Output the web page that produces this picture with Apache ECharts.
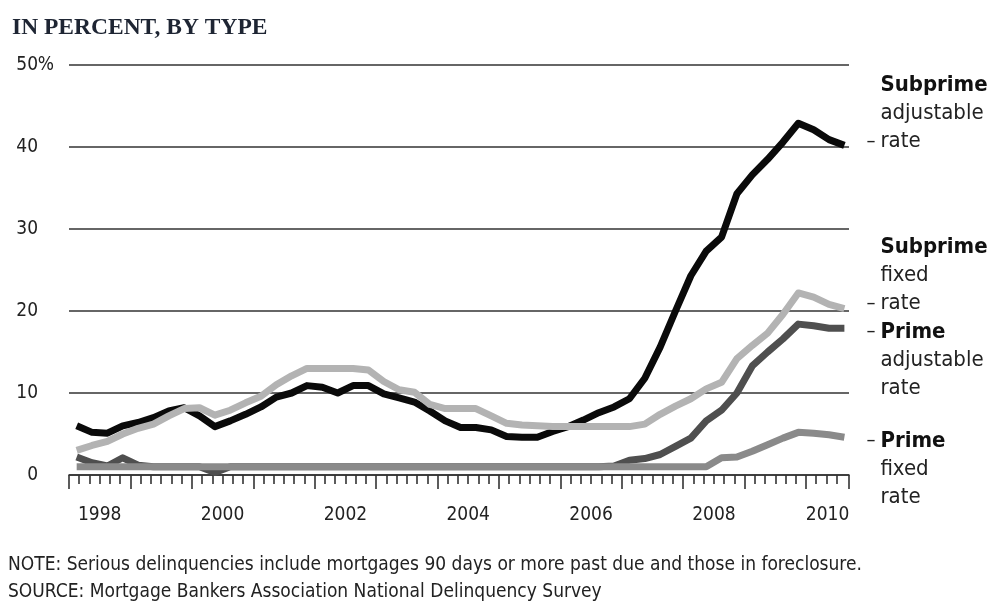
<!DOCTYPE html>
<html>
<head>
<meta charset="utf-8">
<script src="https://cdn.jsdelivr.net/npm/echarts@6/dist/echarts.min.js"></script>
<style>
  html, body { margin: 0; padding: 0; background: #fff; }
  #chart { width: 987px; height: 603px; }
</style>
</head>
<body>
<div id="chart"></div>
<script>
// Serious delinquency rates, quarterly, 1998 Q1 – 2010 Q3 (percent)
const quarters = [
  '1998Q1','1998Q2','1998Q3','1998Q4','1999Q1','1999Q2','1999Q3','1999Q4',
  '2000Q1','2000Q2','2000Q3','2000Q4','2001Q1','2001Q2','2001Q3','2001Q4',
  '2002Q1','2002Q2','2002Q3','2002Q4','2003Q1','2003Q2','2003Q3','2003Q4',
  '2004Q1','2004Q2','2004Q3','2004Q4','2005Q1','2005Q2','2005Q3','2005Q4',
  '2006Q1','2006Q2','2006Q3','2006Q4','2007Q1','2007Q2','2007Q3','2007Q4',
  '2008Q1','2008Q2','2008Q3','2008Q4','2009Q1','2009Q2','2009Q3','2009Q4',
  '2010Q1','2010Q2','2010Q3'
];
const subprimeAdjustable = [
  6.0, 5.2, 5.1, 6.0, 6.4, 7.0, 7.8, 8.2,
  7.2, 5.9, 6.6, 7.4, 8.3, 9.5, 10.0, 10.9,
  10.7, 10.0, 10.9, 10.9, 9.9, 9.4, 8.9, 7.8,
  6.6, 5.8, 5.8, 5.5, 4.7, 4.6, 4.6, 5.3,
  5.9, 6.7, 7.6, 8.3, 9.3, 11.8, 15.6, 20.0,
  24.3, 27.3, 29.0, 34.3, 36.6, 38.5, 40.6, 42.9,
  42.1, 40.9, 40.2
];
const subprimeFixed = [
  3.0, 3.6, 4.1, 5.0, 5.7, 6.2, 7.2, 8.1,
  8.2, 7.3, 7.9, 8.8, 9.6, 11.0, 12.1, 13.0,
  13.0, 13.0, 13.0, 12.8, 11.4, 10.4, 10.1, 8.6,
  8.1, 8.1, 8.1, 7.2, 6.3, 6.1, 6.0, 5.9,
  5.9, 5.9, 5.9, 5.9, 5.9, 6.2, 7.4, 8.4,
  9.3, 10.5, 11.3, 14.2, 15.8, 17.3, 19.6, 22.2,
  21.7, 20.8, 20.3
];
const primeAdjustable = [
  2.2, 1.5, 1.1, 2.1, 1.2, 1.0, 1.0, 1.0,
  1.0, 0.3, 1.0, 1.0, 1.0, 1.0, 1.0, 1.0,
  1.0, 1.0, 1.0, 1.0, 1.0, 1.0, 1.0, 1.0,
  1.0, 1.0, 1.0, 1.0, 1.0, 1.0, 1.0, 1.0,
  1.0, 1.0, 1.0, 1.1, 1.8, 2.0, 2.5, 3.5,
  4.5, 6.6, 7.9, 10.0, 13.3, 15.0, 16.6, 18.4,
  18.2, 17.9, 17.9
];
const primeFixed = [
  1.0, 1.0, 1.0, 1.0, 1.0, 1.0, 1.0, 1.0,
  1.0, 1.0, 1.0, 1.0, 1.0, 1.0, 1.0, 1.0,
  1.0, 1.0, 1.0, 1.0, 1.0, 1.0, 1.0, 1.0,
  1.0, 1.0, 1.0, 1.0, 1.0, 1.0, 1.0, 1.0,
  1.0, 1.0, 1.0, 1.0, 1.0, 1.0, 1.0, 1.0,
  1.0, 1.0, 2.1, 2.2, 2.9, 3.7, 4.5, 5.2,
  5.1, 4.9, 4.6
];
const yearLabels = [1998, 2000, 2002, 2004, 2006, 2008, 2010];
const yTicks = [0, 10, 20, 30, 40, 50];

const X_MIN = 1998, X_MAX = 2010.7;
const sansFont = '"Liberation Sans Narrow", "DejaVu Sans Condensed", "Roboto", sans-serif';

// quarter label -> decimal year at the middle of the quarter
function quarterPos(q) {
  const y = parseInt(q.slice(0, 4), 10);
  const n = parseInt(q.slice(5), 10);
  return y + (n - 0.5) / 4;
}
function pairs(values) {
  return values.map((v, i) => [quarterPos(quarters[i]), v]);
}

// axis tick positions: a long tick at each year start, short ticks every two months
const yearTicks = [];
for (let y = X_MIN; y <= 2010; y++) yearTicks.push(y);
yearTicks.push(X_MAX);
const monthTicks = [];
for (let y = X_MIN; y <= 2010; y++) {
  for (let m = 1; m < 6; m++) {
    const v = y + m / 6;
    if (v < X_MAX - 0.05) monthTicks.push(v);
  }
}
// year labels sit in the middle of the visible span of each year
const labelPositions = yearLabels.map(y => (y + Math.min(y + 1, X_MAX)) / 2);

function endLabel(lines, dashLine, dy) {
  const rows = lines.map((t, i) => {
    const style = i === 0 ? 'b' : 'n';
    const lead = i === dashLine ? '{d|–}' : '{s|}';
    return lead + '{' + style + '|' + t + '}';
  });
  return {
    show: true,
    distance: 0,
    offset: [22, dy],
    formatter: rows.join('\n'),
    rich: {
      b: { fontFamily: sansFont, fontSize: 22, fontWeight: 'bold', color: '#111', lineHeight: 28 },
      n: { fontFamily: sansFont, fontSize: 22, color: '#222', lineHeight: 28 },
      d: { fontFamily: sansFont, fontSize: 20, color: '#222', width: 14, lineHeight: 28 },
      s: { width: 14, lineHeight: 28 }
    }
  };
}

function lineSeries(name, values, color, label) {
  return {
    name: name,
    type: 'line',
    data: pairs(values),
    showSymbol: false,
    symbol: 'none',
    silent: true,
    lineStyle: { color: color, width: 7, join: 'round', cap: 'butt' },
    endLabel: label,
    labelLayout: { hideOverlap: false },
    animation: false
  };
}

const chart = echarts.init(document.getElementById('chart'), null, { renderer: 'canvas' });
chart.setOption({
  backgroundColor: '#fff',
  animation: false,
  title: [
    {
      text: 'IN PERCENT, BY TYPE', left: 7, top: 11,
      textStyle: { fontFamily: '"Liberation Serif", "DejaVu Serif", serif', fontSize: 23.5, fontWeight: 'bold', color: '#1e2533' }
    },
    {
      text: 'NOTE: Serious delinquencies include mortgages 90 days or more past due and those in foreclosure.',
      left: 3, top: 551,
      textStyle: { fontFamily: sansFont, fontSize: 19, fontWeight: 'normal', color: '#222' }
    },
    {
      text: 'SOURCE: Mortgage Bankers Association National Delinquency Survey',
      left: 3, top: 578,
      textStyle: { fontFamily: sansFont, fontSize: 19, fontWeight: 'normal', color: '#222' }
    }
  ],
  grid: { left: 69, right: 138, top: 65, bottom: 128, containLabel: false },
  xAxis: [
    {
      type: 'value', min: X_MIN, max: X_MAX, interval: 1,
      axisLine: { show: true, lineStyle: { color: '#333', width: 1.6 } },
      axisTick: { show: true, length: 14, customValues: yearTicks, lineStyle: { color: '#333', width: 1.6 } },
      axisLabel: {
        show: true, customValues: labelPositions, margin: 31,
        formatter: v => String(Math.floor(v + 1e-6)),
        fontFamily: sansFont, fontSize: 19, color: '#222'
      },
      splitLine: { show: false }
    },
    {
      type: 'value', min: X_MIN, max: X_MAX, position: 'bottom',
      axisLine: { show: false },
      axisTick: { show: true, length: 9, customValues: monthTicks, lineStyle: { color: '#333', width: 1.6 } },
      axisLabel: { show: false },
      splitLine: { show: false }
    }
  ],
  yAxis: {
    type: 'value', min: 0, max: 50, interval: 10,
    axisLine: { show: false },
    axisTick: { show: false },
    splitLine: { show: true, lineStyle: { color: '#333', width: 1.6 } },
    axisLabel: {
      margin: 15, align: 'right',
      // numbers share a right edge; the percent sign on the top label hangs past it
      formatter: v => (v === 50 ? '{v|' + v + '}{p|%}' : '{v|' + v + '}{q|}'),
      rich: {
        v: { fontFamily: sansFont, fontSize: 19, color: '#222' },
        p: { fontFamily: sansFont, fontSize: 19, color: '#222', width: 16 },
        q: { width: 16 }
      }
    }
  },
  series: [
    lineSeries('Prime adjustable rate', primeAdjustable, '#4f4f4f',
      endLabel(['Prime', 'adjustable', 'rate'], 0, 32)),
    lineSeries('Prime fixed rate', primeFixed, '#8a8a8a',
      endLabel(['Prime', 'fixed', 'rate'], 0, 32)),
    lineSeries('Subprime adjustable rate', subprimeAdjustable, '#0a0a0a',
      endLabel(['Subprime', 'adjustable', 'rate'], 2, -32)),
    lineSeries('Subprime fixed rate', subprimeFixed, '#b3b3b3',
      endLabel(['Subprime', 'fixed', 'rate'], 2, -33))
  ]
});
</script>
</body>
</html>
